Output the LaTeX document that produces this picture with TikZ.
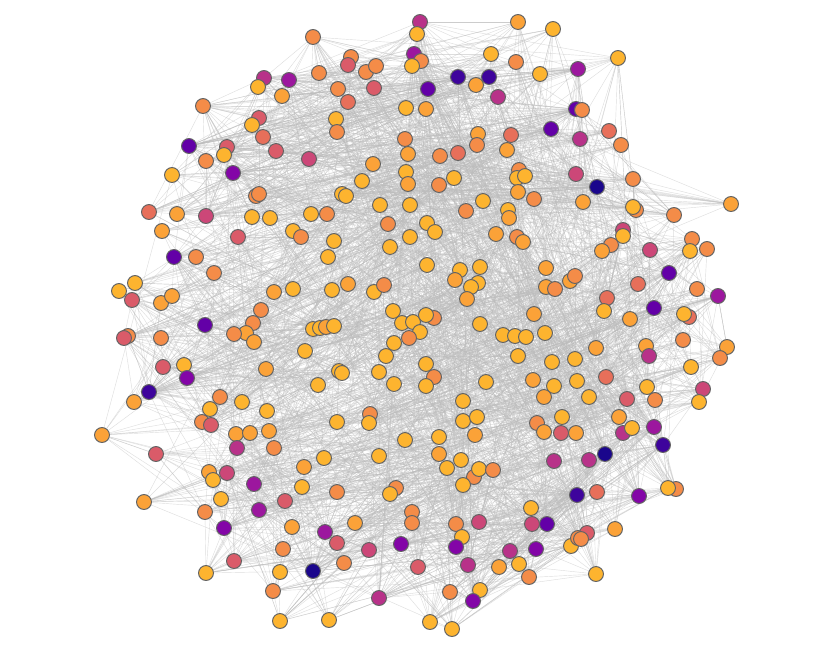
\documentclass[tikz,border=0pt]{standalone}
\usetikzlibrary{backgrounds}
\definecolor{cY}{HTML}{FDB42F}
\definecolor{cA}{HTML}{FBA238}
\definecolor{cO}{HTML}{F48C48}
\definecolor{cS}{HTML}{E76F5A}
\definecolor{cR}{HTML}{DA5B69}
\definecolor{cP}{HTML}{CC4778}
\definecolor{cM}{HTML}{B83289}
\definecolor{cV}{HTML}{9C179E}
\definecolor{cW}{HTML}{8305A7}
\definecolor{cI}{HTML}{6300A7}
\definecolor{cD}{HTML}{3E049C}
\definecolor{cB}{HTML}{1A068C}
\definecolor{edgegray}{HTML}{BDBDBD}
\definecolor{rimgray}{HTML}{646464}
\tikzset{
  nd/.style={circle, draw=rimgray, line width=0.75pt, minimum size=11.2pt, inner sep=0pt},
  edgeline/.style={draw=edgegray, line width=0.32pt, opacity=0.5}
}
\def\degY{7}\def\degA{7}\def\degO{8}\def\degS{10}\def\degR{11}\def\degP{15}
\def\degM{17}\def\degV{22}\def\degW{24}\def\degI{32}\def\degD{38}\def\degB{42}
\def\nodelist{420/22/M,417/34/Y,518/22/A,553/29/Y,313/37/O,414/54/V,421/61/O,412/66/Y,351/57/O,348/65/R,366/72/O,376/66/O,491/54/Y,516/62/O,540/74/Y,578/69/V,618/58/Y,458/77/D,489/77/D,476/85/A,498/97/M,428/89/I,406/108/Y,426/109/A,338/89/O,348/102/S,374/88/R,336/119/Y,337/132/O,264/78/M,289/80/V,258/87/Y,282/96/A,319/73/O,203/106/O,259/118/R,252/125/Y,263/137/S,276/151/R,309/159/P,189/146/I,227/147/R,224/155/Y,206/161/O,233/173/W,172/175/Y,256/196/O,259/194/O,149/212/S,177/214/A,206/216/P,252/217/Y,270/218/Y,311/214/Y,327/214/O,
576/109/I,582/110/O,551/129/I,580/139/M,609/131/S,621/145/O,576/174/P,597/187/B,583/202/A,633/179/O,636/210/O,633/207/Y,674/215/O,731/204/A,
405/139/O,408/154/A,406/172/Y,408/184/A,478/134/A,477/145/O,511/135/S,507/150/A,458/153/S,440/156/O,373/164/A,362/181/Y,439/185/O,454/178/Y,519/170/O,517/178/Y,525/176/Y,518/192/A,534/199/O,342/194/Y,346/196/Y,380/205/Y,410/205/Y,483/201/Y,466/211/O,508/210/Y,509/218/A,
162/231/A,238/237/R,293/231/Y,301/237/O,334/241/Y,174/257/I,196/257/O,214/273/O,328/257/Y,274/292/A,293/289/Y,332/290/Y,135/283/Y,119/291/Y,132/300/R,161/303/A,172/296/A,261/310/O,253/323/O,246/333/A,234/334/O,254/342/A,205/325/I,128/336/O,124/338/R,161/338/O,305/351/Y,313/329/Y,320/328/Y,326/327/A,334/326/Y,266/369/A,163/367/R,184/365/Y,187/378/W,149/392/D,134/402/A,318/385/Y,220/397/O,242/402/Y,210/409/Y,267/411/Y,202/422/O,211/425/R,339/371/Y,342/373/Y,337/422/Y,
388/224/O,390/247/Y,410/237/Y,427/223/Y,435/232/Y,496/234/A,517/237/O,523/242/A,427/265/Y,460/270/Y,455/280/A,480/267/Y,478/283/Y,471/287/Y,467/299/A,546/268/A,546/287/A,555/289/O,570/281/A,575/276/O,348/284/A,374/292/Y,384/285/O,393/311/Y,402/323/Y,413/322/Y,434/318/O,426/315/Y,420/332/Y,409/338/O,394/343/Y,386/356/Y,480/324/Y,534/314/A,503/335/Y,515/336/Y,526/337/Y,545/333/Y,518/356/Y,379/372/Y,426/364/Y,434/377/O,426/386/Y,394/384/Y,486/382/Y,463/401/Y,463/421/Y,477/417/Y,370/414/O,369/423/Y,533/380/A,552/362/Y,554/386/Y,544/397/A,575/359/Y,577/381/Y,562/417/Y,537/423/O,544/432/A,561/433/R,576/433/A,
623/230/P,623/236/Y,692/239/O,690/251/Y,707/249/O,650/250/P,611/245/O,602/251/A,669/273/I,638/284/S,697/289/O,718/296/V,607/298/S,604/311/Y,654/308/I,689/317/S,684/314/Y,630/319/A,683/340/O,727/347/A,720/358/O,596/348/A,646/346/A,649/356/M,691/367/Y,606/377/S,647/387/Y,655/400/O,627/399/R,703/389/P,699/402/Y,589/397/Y,619/417/A,
102/435/A,156/454/R,236/434/A,250/433/A,269/431/A,237/448/M,274/448/O,324/458/Y,209/472/A,213/480/Y,227/473/P,254/484/V,304/467/A,302/487/Y,337/492/O,221/499/Y,144/502/A,205/512/O,259/510/V,285/501/R,224/528/W,292/527/A,325/532/V,337/543/R,283/549/O,234/561/R,206/573/Y,280/572/Y,313/571/B,344/563/O,273/591/O,280/621/Y,329/620/Y,
405/440/Y,439/437/Y,475/435/A,379/456/Y,439/454/A,461/460/Y,447/468/Y,474/477/O,479/469/Y,493/470/O,463/485/Y,554/461/M,577/495/D,396/488/O,390/494/Y,412/512/O,412/523/O,355/523/A,456/524/O,479/522/P,531/508/Y,532/524/P,547/524/I,369/550/P,401/544/W,462/537/Y,456/547/W,510/551/M,536/549/W,571/546/Y,578/538/O,418/567/R,468/565/M,499/567/A,519/564/Y,529/577/O,379/598/M,450/592/O,480/590/Y,473/601/W,430/622/Y,452/629/Y,
623/433/M,632/428/Y,654/427/V,663/445/D,605/454/B,589/460/M,597/492/S,639/496/W,676/489/O,668/488/Y,587/533/R,581/539/O,615/529/A,596/574/Y}
\begin{document}
\begin{tikzpicture}[x=0.75pt,y=-0.75pt]
\useasboundingbox (0,0) rectangle (833,651);
\foreach \x/\y/\col [count=\i] in \nodelist {
  \node[nd, fill=c\col] (n\i) at (\x,\y) {};
  \xdef\N{\i}
}
\pgfmathsetseed{11}
\begin{scope}[on background layer]
  \fill[white] (0,0) rectangle (833,651);
  \foreach \x/\y/\col [count=\i] in \nodelist {
    \edef\K{\csname deg\col\endcsname}
    \foreach \k in {1,...,\K}{
      \pgfmathtruncatemacro\loc{random(0,2)}
      \ifnum\loc>0
        \pgfmathtruncatemacro\j{mod(\i+random(0,70)-35+\N-1,\N)+1}
      \else
        \pgfmathtruncatemacro\j{random(1,\N)}
      \fi
      \ifnum\j=\i\else\draw[edgeline] (n\i) -- (n\j);\fi
    }
  }
\end{scope}
\end{tikzpicture}
\end{document}
